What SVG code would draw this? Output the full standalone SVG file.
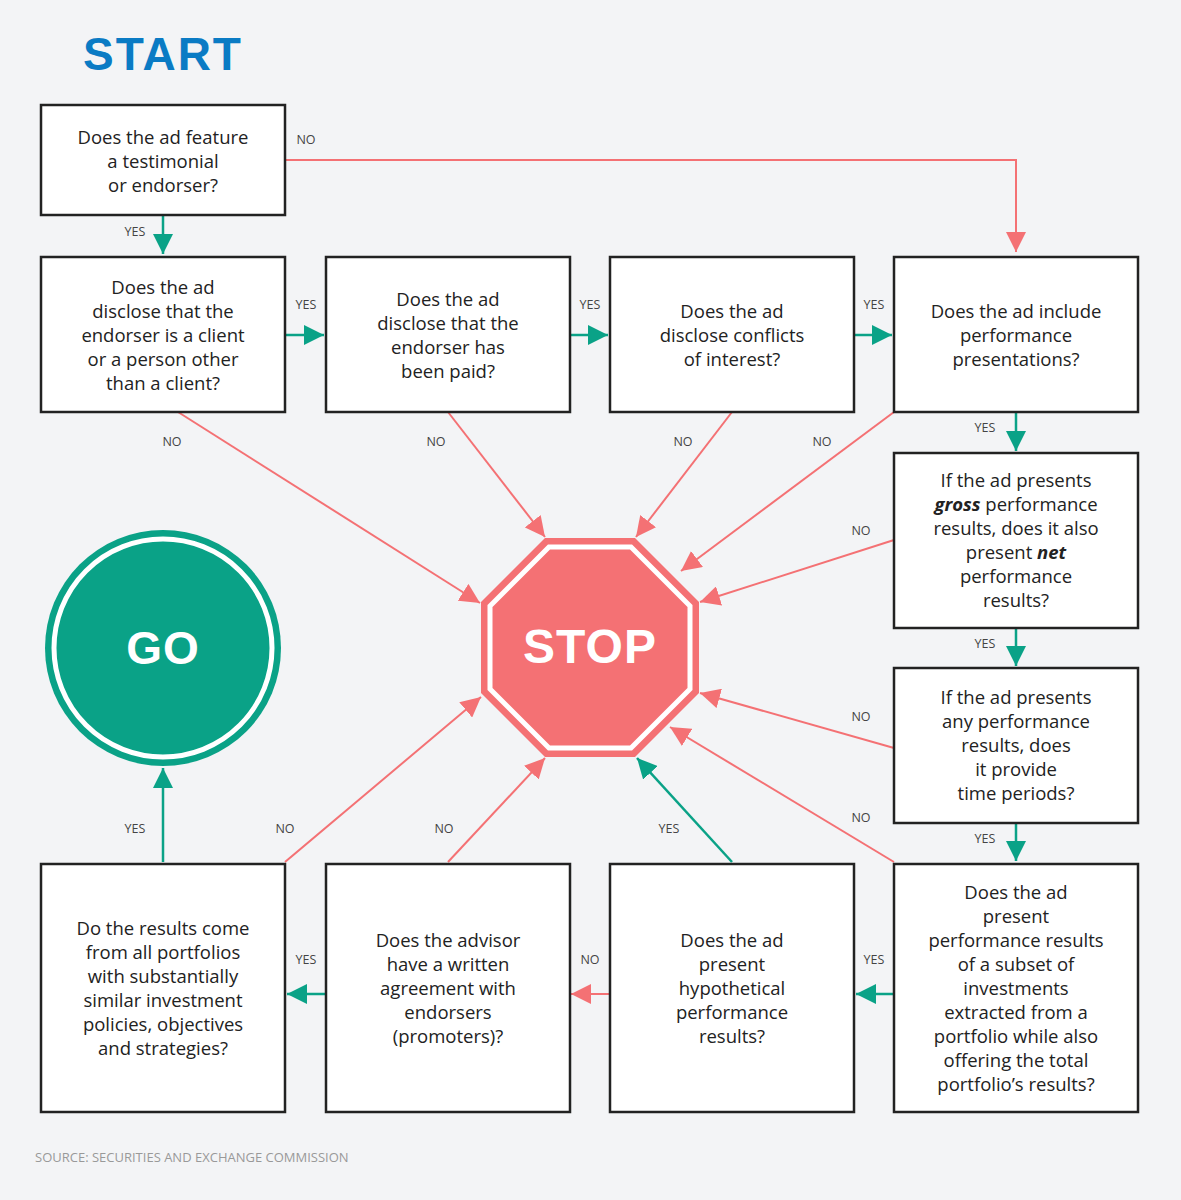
<svg xmlns="http://www.w3.org/2000/svg" width="1181" height="1200" viewBox="0 0 1181 1200">
<style>
.bx{fill:#fff;stroke:#222;stroke-width:2.5}
.t{font-family:"Open Sans","Liberation Sans",sans-serif;font-size:18.5px;fill:#222;text-anchor:middle}
.l{font-family:"Open Sans","Liberation Sans",sans-serif;font-size:12.5px;fill:#444;text-anchor:middle}
.r{stroke:#f47174;stroke-width:2;fill:none}
.g{stroke:#0aa287;stroke-width:2.5;fill:none}
</style>
<defs>
<marker id="arL" viewBox="0 0 10 10" refX="10" refY="5" markerWidth="20" markerHeight="20" markerUnits="userSpaceOnUse" orient="auto"><path d="M0,0L10,5L0,10z" fill="#f47174"/></marker>
<marker id="agL" viewBox="0 0 10 10" refX="10" refY="5" markerWidth="20" markerHeight="20" markerUnits="userSpaceOnUse" orient="auto"><path d="M0,0L10,5L0,10z" fill="#0aa287"/></marker>
</defs>
<rect width="1181" height="1200" fill="#f3f4f6"/>
<text x="163" y="70" font-family="Liberation Sans,sans-serif" font-weight="bold" font-size="46" letter-spacing="2" fill="#0a7bc4" text-anchor="middle">START</text>
<g id="connectors">
<path class="r" d="M285,160H1016V252" marker-end="url(#arL)"/>
<path class="g" d="M163,215V254" marker-end="url(#agL)"/>
<path class="g" d="M285,335H324" marker-end="url(#agL)"/>
<path class="g" d="M570,335H608" marker-end="url(#agL)"/>
<path class="g" d="M854,335H892" marker-end="url(#agL)"/>
<path class="g" d="M1016,412V451" marker-end="url(#agL)"/>
<path class="g" d="M1016,628V666" marker-end="url(#agL)"/>
<path class="g" d="M1016,823V861" marker-end="url(#agL)"/>
<path class="g" d="M894,994H856" marker-end="url(#agL)"/>
<path class="r" d="M610,994H571" marker-end="url(#arL)"/>
<path class="g" d="M326,994H287" marker-end="url(#agL)"/>
<path class="g" d="M163,862V768" marker-end="url(#agL)"/>
<path class="r" d="M178,412L480,603" marker-end="url(#arL)"/>
<path class="r" d="M448,412L545,537" marker-end="url(#arL)"/>
<path class="r" d="M732,412L636,537" marker-end="url(#arL)"/>
<path class="r" d="M894,412L681,571" marker-end="url(#arL)"/>
<path class="r" d="M894,540L700,602" marker-end="url(#arL)"/>
<path class="r" d="M894,748L700,693" marker-end="url(#arL)"/>
<path class="r" d="M894,862L670,727" marker-end="url(#arL)"/>
<path class="g" d="M732,862L637,758" marker-end="url(#agL)"/>
<path class="r" d="M448,862L545,758" marker-end="url(#arL)"/>
<path class="r" d="M285,862L481,697" marker-end="url(#arL)"/>
</g>
<g id="labels">
<text class="l" x="306" y="144">NO</text>
<text class="l" x="135" y="236">YES</text>
<text class="l" x="306" y="309">YES</text>
<text class="l" x="590" y="309">YES</text>
<text class="l" x="874" y="309">YES</text>
<text class="l" x="985" y="432">YES</text>
<text class="l" x="985" y="648">YES</text>
<text class="l" x="985" y="843">YES</text>
<text class="l" x="874" y="964">YES</text>
<text class="l" x="590" y="964">NO</text>
<text class="l" x="306" y="964">YES</text>
<text class="l" x="135" y="833">YES</text>
<text class="l" x="172" y="446">NO</text>
<text class="l" x="436" y="446">NO</text>
<text class="l" x="683" y="446">NO</text>
<text class="l" x="822" y="446">NO</text>
<text class="l" x="861" y="535">NO</text>
<text class="l" x="861" y="721">NO</text>
<text class="l" x="861" y="822">NO</text>
<text class="l" x="669" y="833">YES</text>
<text class="l" x="444" y="833">NO</text>
<text class="l" x="285" y="833">NO</text>
</g>
<g id="stop">
<polygon points="545,538 635,538 699,602 699,693 635,757 545,757 481,693 481,602" fill="#f47174"/>
<polygon points="549,547 631,547 690,606 690,689 631,748 549,748 490,689 490,606" fill="none" stroke="#fff" stroke-width="5"/>
<text x="590" y="663" font-family="Liberation Sans,sans-serif" font-weight="bold" font-size="48" letter-spacing="1" fill="#fff" text-anchor="middle">STOP</text>
</g>
<g id="go">
<circle cx="163" cy="648" r="118" fill="#0aa287"/>
<circle cx="163" cy="648" r="109" fill="none" stroke="#fff" stroke-width="5"/>
<text x="163" y="664" font-family="Liberation Sans,sans-serif" font-weight="bold" font-size="46" letter-spacing="1" fill="#fff" text-anchor="middle">GO</text>
</g>
<g id="n0"><rect class="bx" x="41" y="105" width="244" height="110"/><text class="t"><tspan x="163" y="144">Does the ad feature</tspan><tspan x="163" y="168">a testimonial</tspan><tspan x="163" y="192">or endorser?</tspan></text></g>
<g id="n1"><rect class="bx" x="41" y="257" width="244" height="155"/><text class="t"><tspan x="163" y="294">Does the ad</tspan><tspan x="163" y="318">disclose that the</tspan><tspan x="163" y="342">endorser is a client</tspan><tspan x="163" y="366">or a person other</tspan><tspan x="163" y="390">than a client?</tspan></text></g>
<g id="n2"><rect class="bx" x="326" y="257" width="244" height="155"/><text class="t"><tspan x="448" y="306">Does the ad</tspan><tspan x="448" y="330">disclose that the</tspan><tspan x="448" y="354">endorser has</tspan><tspan x="448" y="378">been paid?</tspan></text></g>
<g id="n3"><rect class="bx" x="610" y="257" width="244" height="155"/><text class="t"><tspan x="732" y="318">Does the ad</tspan><tspan x="732" y="342">disclose conflicts</tspan><tspan x="732" y="366">of interest?</tspan></text></g>
<g id="n4"><rect class="bx" x="894" y="257" width="244" height="155"/><text class="t"><tspan x="1016" y="318">Does the ad include</tspan><tspan x="1016" y="342">performance</tspan><tspan x="1016" y="366">presentations?</tspan></text></g>
<g id="n5"><rect class="bx" x="894" y="453" width="244" height="175"/><text class="t"><tspan x="1016" y="487">If the ad presents</tspan><tspan x="1016" y="511"><tspan font-weight="bold" font-style="italic">gross</tspan> performance</tspan><tspan x="1016" y="535">results, does it also</tspan><tspan x="1016" y="559">present <tspan font-weight="bold" font-style="italic">net</tspan></tspan><tspan x="1016" y="583">performance</tspan><tspan x="1016" y="607">results?</tspan></text></g>
<g id="n6"><rect class="bx" x="894" y="668" width="244" height="155"/><text class="t"><tspan x="1016" y="704">If the ad presents</tspan><tspan x="1016" y="728">any performance</tspan><tspan x="1016" y="752">results, does</tspan><tspan x="1016" y="776">it provide</tspan><tspan x="1016" y="800">time periods?</tspan></text></g>
<g id="n7"><rect class="bx" x="894" y="864" width="244" height="248"/><text class="t"><tspan x="1016" y="899">Does the ad</tspan><tspan x="1016" y="923">present</tspan><tspan x="1016" y="947">performance results</tspan><tspan x="1016" y="971">of a subset of</tspan><tspan x="1016" y="995">investments</tspan><tspan x="1016" y="1019">extracted from a</tspan><tspan x="1016" y="1043">portfolio while also</tspan><tspan x="1016" y="1067">offering the total</tspan><tspan x="1016" y="1091">portfolio’s results?</tspan></text></g>
<g id="n8"><rect class="bx" x="610" y="864" width="244" height="248"/><text class="t"><tspan x="732" y="947">Does the ad</tspan><tspan x="732" y="971">present</tspan><tspan x="732" y="995">hypothetical</tspan><tspan x="732" y="1019">performance</tspan><tspan x="732" y="1043">results?</tspan></text></g>
<g id="n9"><rect class="bx" x="326" y="864" width="244" height="248"/><text class="t"><tspan x="448" y="947">Does the advisor</tspan><tspan x="448" y="971">have a written</tspan><tspan x="448" y="995">agreement with</tspan><tspan x="448" y="1019">endorsers</tspan><tspan x="448" y="1043">(promoters)?</tspan></text></g>
<g id="n10"><rect class="bx" x="41" y="864" width="244" height="248"/><text class="t"><tspan x="163" y="935">Do the results come</tspan><tspan x="163" y="959">from all portfolios</tspan><tspan x="163" y="983">with substantially</tspan><tspan x="163" y="1007">similar investment</tspan><tspan x="163" y="1031">policies, objectives</tspan><tspan x="163" y="1055">and strategies?</tspan></text></g>
<text x="35" y="1162" font-family="Open Sans,Liberation Sans,sans-serif" font-size="13" fill="#999">SOURCE: SECURITIES AND EXCHANGE COMMISSION</text>
</svg>
